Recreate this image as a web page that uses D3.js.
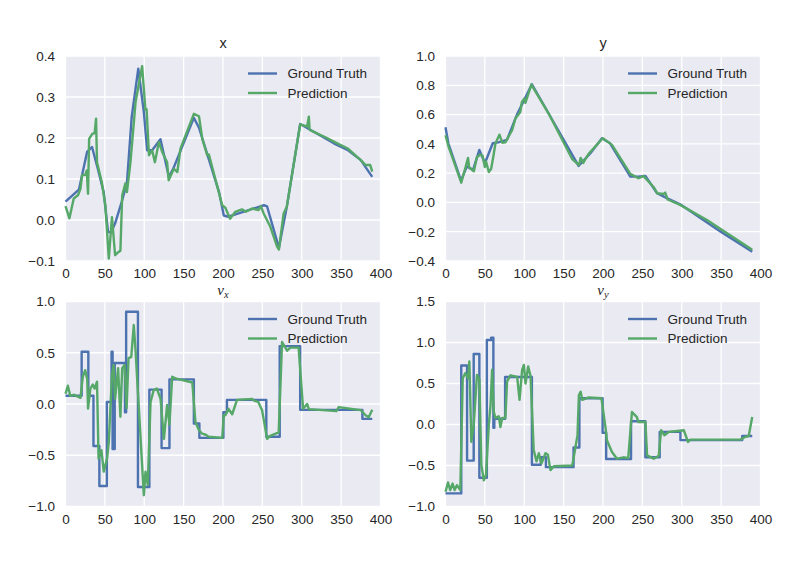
<!DOCTYPE html>
<html lang="en">
<head>
<meta charset="UTF-8">
<title>Ground Truth vs Prediction</title>
<script src="https://d3js.org/d3.v7.min.js"></script>
<style>
    body {
        margin: 0;
        background: #fff;
        font-family: Arial, 'Liberation Sans', sans-serif;
    }
    svg text {
        fill: #262626;
    }
</style>
</head>
<body>
<div id="chart"></div>
<script>
    // ---- data: [step, value] ----
    const seriesNames = ["Ground Truth", "Prediction"];
    const stepTicks = [0, 50, 100, 150, 200, 250, 300, 350, 400];
    const xTicks = [-0.1, 0.0, 0.1, 0.2, 0.3, 0.4];
    const yTicks = [-0.4, -0.2, 0.0, 0.2, 0.4, 0.6, 0.8, 1.0];
    const vxTicks = [-1.0, -0.5, 0.0, 0.5, 1.0];
    const vyTicks = [-1.0, -0.5, 0.0, 0.5, 1.0, 1.5];

    const gtX = [[0,0.045],[17,0.074],[27.4,0.166],[33.7,0.178],[41,0.125],[48.5,0.068],[54,-0.029],[58,-0.03],[63,-0.008],[71.5,0.045],[78,0.09],[84,0.25],[92.4,0.369],[99.5,0.263],[103.7,0.17],[110,0.17],[120.6,0.197],[131.3,0.105],[137,0.126],[163,0.249],[169.5,0.225],[195,0.068],[201,0.011],[207,0.008],[252,0.036],[256,0.033],[271,-0.068],[281,0.032],[298,0.234],[340.7,0.187],[358,0.171],[375,0.146],[389.5,0.105]];
    const predX = [[0,0.034],[5,0.004],[10.4,0.052],[16,0.061],[19,0.076],[21,0.109],[25,0.11],[27,0.121],[28.6,0.064],[30,0.198],[34,0.21],[37,0.212],[38.8,0.247],[40,0.141],[46,0.093],[50.6,0.036],[55,-0.094],[59,0.007],[63,-0.086],[66,-0.08],[69.7,-0.075],[72,0.06],[76,0.089],[78,0.068],[82.5,0.141],[89,0.288],[97.3,0.375],[101.5,0.268],[103,0.27],[106,0.158],[110,0.17],[113.5,0.141],[118.6,0.19],[123,0.165],[129,0.141],[131,0.097],[137.6,0.125],[142,0.117],[146,0.174],[163,0.259],[169.5,0.253],[173.7,0.198],[180,0.158],[182,0.16],[199,0.036],[203,0.03],[209,0.003],[215.6,0.02],[224,0.026],[229,0.02],[237,0.028],[245,0.024],[248,0.034],[251.6,0.016],[260,-0.016],[268.7,-0.065],[271,-0.072],[277,0.016],[281,0.032],[298,0.233],[306.8,0.228],[309,0.252],[310,0.22],[332,0.2],[347,0.185],[358,0.175],[375,0.146],[381,0.134],[387,0.134],[389.5,0.118]];

    const gtY = [[0,0.513],[3.6,0.404],[19.7,0.149],[27,0.245],[35,0.222],[43,0.359],[50,0.268],[60,0.404],[67,0.41],[78,0.427],[90.6,0.598],[109.7,0.807],[169,0.249],[184,0.336],[198.7,0.438],[209,0.404],[234.7,0.176],[245,0.176],[253.8,0.181],[268.7,0.063],[281,0.029],[298,-0.013],[349,-0.199],[389.5,-0.336]];
    const predY = [[0,0.459],[4,0.379],[20,0.135],[25,0.231],[28.6,0.304],[30,0.24],[36,0.213],[40,0.31],[44,0.326],[47,0.32],[50,0.242],[51.5,0.28],[55,0.208],[58,0.23],[61,0.322],[63.4,0.402],[68.5,0.463],[72,0.408],[76,0.41],[84.6,0.493],[88.8,0.573],[95,0.618],[97,0.686],[100,0.709],[101.5,0.68],[109,0.805],[131,0.607],[161,0.295],[169.4,0.254],[171.6,0.304],[175,0.27],[178,0.3],[182,0.333],[199.7,0.438],[211.4,0.393],[234.7,0.195],[245,0.165],[251.5,0.18],[264.4,0.104],[268.7,0.063],[277,0.058],[279,0.067],[282,0.02],[298,-0.017],[332,-0.12],[389.5,-0.324]];

    // ground truth velocities are piecewise constant: [start step, value]
    const gtVx = [[0,0.08],[20.5,0.51],[29,0.08],[35.5,-0.41],[43,-0.80],[52.5,0.02],[58.5,0.51],[59.8,-0.44],[62.5,0.40],[75.5,-0.08],[77,0.90],[92,-0.81],[106.5,0.14],[122,-0.43],[132,0.24],[163,-0.19],[170,-0.33],[200.5,-0.08],[205,0.04],[255,-0.32],[272,0.565],[298,-0.057],[377,-0.145],[389.5,-0.145]];
    const predVx = [[0,0.10],[3,0.178],[6,0.08],[11,0.09],[15,0.075],[19,0.06],[22,0.266],[25,0.33],[27.6,0.24],[28.6,-0.044],[31.6,0.15],[34.6,0.19],[37,0.15],[40,0.217],[42,-0.533],[45.6,-0.45],[48.6,-0.66],[52.8,-0.53],[55,-0.37],[57,-0.044],[59,0.28],[61,0.38],[63,0.05],[66.8,0.35],[69.7,-0.125],[72,0.35],[75,0.38],[77.6,-0.04],[80,0.445],[83.5,0.46],[86.7,0.77],[88.8,0.54],[99.5,-0.89],[101.6,-0.66],[104.5,-0.79],[108,0.02],[112,0.135],[116,0.15],[120.6,0.054],[125,-0.34],[129,-0.01],[132,-0.2],[135.5,0.266],[139.7,0.25],[161,0.21],[165,-0.175],[169.5,-0.256],[173.7,-0.29],[178,-0.3],[182,-0.32],[199,-0.33],[201,-0.11],[203,-0.11],[207,-0.047],[211.7,-0.1],[217.8,0.04],[237,0.05],[240,0.03],[244.8,0.02],[249.6,-0.06],[256,-0.34],[260,-0.31],[270.7,-0.276],[275,0.605],[281.4,0.52],[285.6,0.55],[296,0.55],[301.7,-0.047],[306.8,0.0],[309,-0.05],[344,-0.07],[347,-0.03],[375,-0.06],[381,-0.11],[385,-0.13],[389.5,-0.057]];

    const gtVy = [[0,-0.84],[20,0.72],[27.4,-0.44],[35.8,0.86],[43,-0.65],[52.5,1.03],[58,1.06],[60.8,-0.04],[62,0.07],[75.7,0.58],[109.7,-0.49],[121,-0.40],[127.5,-0.52],[162.6,-0.28],[170,0.32],[199.5,-0.10],[204,-0.42],[235.6,0.04],[253.8,-0.40],[272,-0.09],[298.3,-0.19],[376.8,-0.14],[389.5,-0.14]];
    const predVy = [[0,-0.82],[3.2,-0.707],[6,-0.8],[9,-0.72],[11.6,-0.8],[14.5,-0.74],[18.8,-0.8],[21.9,0.565],[25,0.626],[28.6,0.565],[30.3,0.77],[32.8,-0.21],[35.8,-0.005],[40,0.605],[43,0.55],[45.5,-0.49],[48.6,-0.68],[51.4,-0.617],[55,-0.005],[57.2,0.24],[59.2,0.667],[61.3,0.157],[63.4,0.08],[67.6,0.1],[69.7,-0.03],[72,0.08],[76,0.08],[78.2,0.525],[82.5,0.6],[91,0.58],[94,0.3],[97.3,0.667],[99.5,0.727],[101.6,0.50],[105,0.707],[108,0.59],[112,-0.31],[115.6,-0.45],[118.5,-0.35],[121.8,-0.475],[127,-0.35],[130,-0.37],[133.3,-0.556],[137.6,-0.51],[161,-0.5],[165.5,-0.25],[167.6,-0.13],[169.4,0.36],[171.6,0.40],[173.7,0.3],[182,0.33],[198,0.32],[203.3,-0.046],[205,-0.193],[211.4,-0.336],[217.8,-0.417],[226,-0.4],[232,-0.41],[236.8,0.153],[243,0.09],[245,0.03],[253.8,0.03],[256,-0.377],[264.4,-0.417],[270.8,-0.38],[273.8,-0.07],[278,-0.132],[283.7,-0.09],[302.6,-0.07],[308,-0.213],[311,-0.185],[374.5,-0.185],[381,-0.15],[385,-0.14],[389.5,0.092]];

    const colors = ["#4C72B0", "#55A868"];

    const panels = [
        { title: "x", sub: null, gt: gtX, pred: predX, ticks: xTicks, domain: [-0.1, 0.4], step: false, left: 65.5, top: 56 },
        { title: "y", sub: null, gt: gtY, pred: predY, ticks: yTicks, domain: [-0.4, 1.0], step: false, left: 445.5, top: 56 },
        { title: "v", sub: "x", gt: gtVx, pred: predVx, ticks: vxTicks, domain: [-1.0, 1.0], step: true, left: 65.5, top: 301.5 },
        { title: "v", sub: "y", gt: gtVy, pred: predVy, ticks: vyTicks, domain: [-1.0, 1.5], step: true, left: 445.5, top: 301.5 }
    ];
    const plotW = 315, plotH = 205;

    const svg = d3.select("#chart").append("svg")
        .attr("width", 812)
        .attr("height", 562);

    panels.forEach(function (p) {
        let x = d3.scaleLinear().domain([0, 400]).range([p.left, p.left + plotW]);
        let y = d3.scaleLinear().domain(p.domain).range([p.top + plotH, p.top]);
        let g = svg.append("g");

        g.append("rect")
            .attr("x", p.left).attr("y", p.top)
            .attr("width", plotW).attr("height", plotH)
            .attr("fill", "#EAEAF2");

        // grid
        g.selectAll(".vgrid").data(stepTicks).join("line")
            .attr("x1", d => x(d)).attr("x2", d => x(d))
            .attr("y1", p.top).attr("y2", p.top + plotH)
            .attr("stroke", "#fff").attr("stroke-width", 1.3);
        g.selectAll(".hgrid").data(p.ticks).join("line")
            .attr("x1", p.left).attr("x2", p.left + plotW)
            .attr("y1", d => y(d)).attr("y2", d => y(d))
            .attr("stroke", "#fff").attr("stroke-width", 1.3);

        // axes
        let xa = g.append("g")
            .attr("transform", `translate(0,${p.top + plotH})`)
            .call(d3.axisBottom(x).tickValues(stepTicks).tickSize(0).tickPadding(7.5).tickFormat(d3.format("d")));
        let ya = g.append("g")
            .attr("transform", `translate(${p.left},0)`)
            .call(d3.axisLeft(y).tickValues(p.ticks).tickSize(0).tickPadding(10.5).tickFormat(d3.format(".1f")));
        [xa, ya].forEach(a => {
            a.select(".domain").remove();
            a.attr("font-family", null).attr("font-size", null);
            a.selectAll("text").style("font-size", "13.5px").style("fill", "#262626");
        });

        // series
        let line = d3.line()
            .x(d => x(d[0]))
            .y(d => y(d[1]));

        g.append("path")
            .datum(p.gt)
            .attr("fill", "none")
            .attr("stroke", colors[0])
            .attr("stroke-width", 2.4)
            .attr("stroke-linejoin", "round")
            .attr("d", line.curve(p.step ? d3.curveStepAfter : d3.curveLinear));
        g.append("path")
            .datum(p.pred)
            .attr("fill", "none")
            .attr("stroke", colors[1])
            .attr("stroke-width", 2.4)
            .attr("stroke-linejoin", "round")
            .attr("d", line.curve(d3.curveLinear));

        // title
        let cx = p.left + plotW / 2;
        if (p.sub) {
            let t = g.append("text")
                .attr("x", cx).attr("y", p.top - 7)
                .attr("text-anchor", "middle")
                .style("font-family", "'Liberation Serif', 'DejaVu Serif', serif")
                .style("font-style", "italic")
                .style("font-size", "15px");
            t.append("tspan").text(p.title);
            t.append("tspan").attr("dy", 3).style("font-size", "10.5px").text(p.sub);
        } else {
            g.append("text")
                .attr("x", cx).attr("y", p.top - 8)
                .attr("text-anchor", "middle")
                .style("font-size", "14.5px")
                .text(p.title);
        }

        // legend
        let lg = g.append("g")
            .attr("transform", `translate(${p.left + 182.5},${p.top + 17.5})`);
        seriesNames.forEach(function (name, i) {
            lg.append("line")
                .attr("x1", 0).attr("x2", 29)
                .attr("y1", i * 19.5).attr("y2", i * 19.5)
                .attr("stroke", colors[i]).attr("stroke-width", 2.4);
            lg.append("text")
                .attr("x", 39.5).attr("y", i * 19.5)
                .attr("dy", "0.35em")
                .style("font-size", "13.5px")
                .text(name);
        });
    });
</script>
</body>
</html>
